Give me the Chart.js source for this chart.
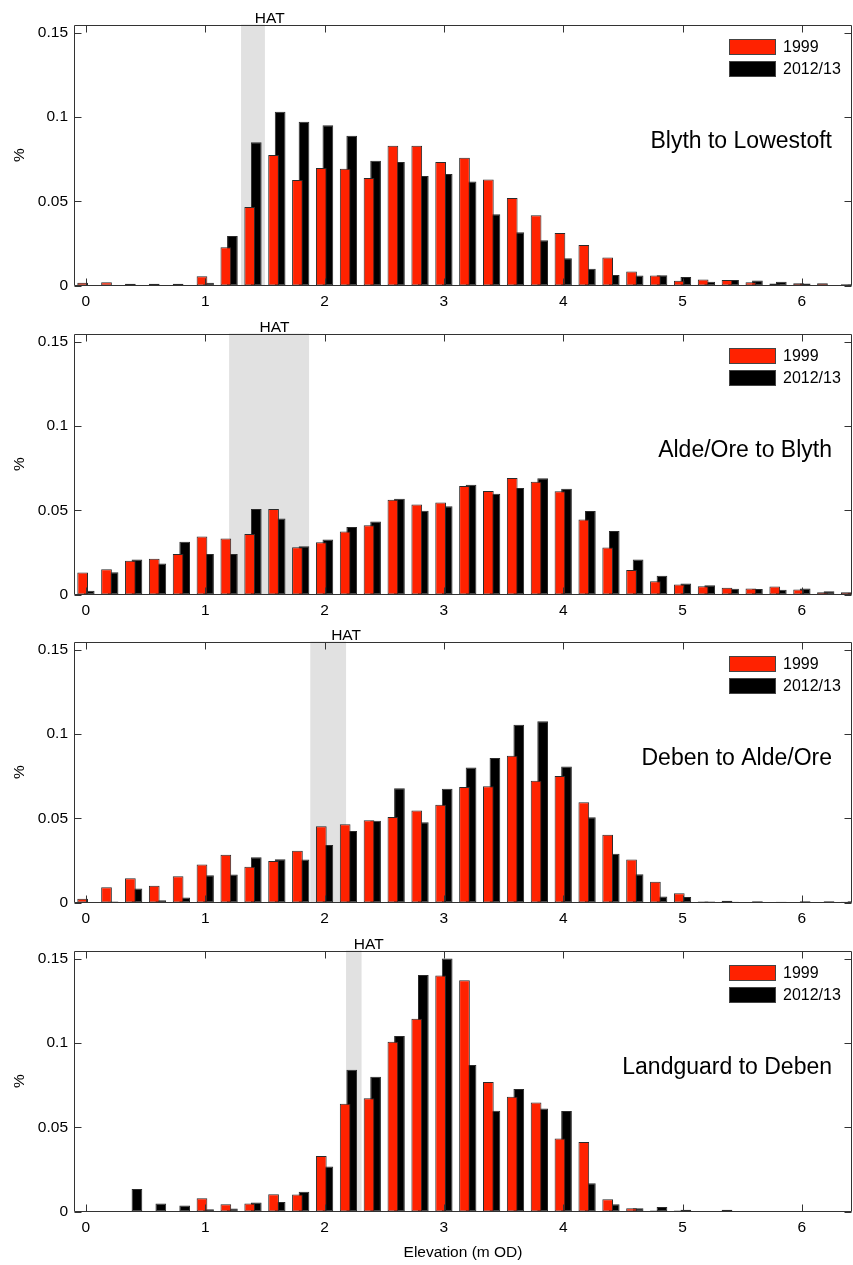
<!DOCTYPE html>
<html>
<head>
<meta charset="utf-8">
<script src="https://cdn.jsdelivr.net/npm/chart.js@4.4.1/dist/chart.umd.min.js"></script>
<style>
  html, body { margin: 0; padding: 0; background: #fff; }
  #wrap { position: relative; width: 853px; height: 1265px; overflow: hidden; }
  #wrap canvas { position: absolute; left: 0; }
</style>
</head>
<body>
<div id="wrap">
  <canvas id="p1" width="853" height="309" style="top:0px"></canvas>
  <canvas id="p2" width="853" height="309" style="top:309px"></canvas>
  <canvas id="p3" width="853" height="309" style="top:617px"></canvas>
  <canvas id="p4" width="853" height="339" style="top:926px"></canvas>
</div>
<script>
// --- data ---
const bins = [0, 0.2, 0.4, 0.6, 0.8, 1, 1.2, 1.4, 1.6, 1.8, 2, 2.2, 2.4, 2.6, 2.8,
              3, 3.2, 3.4, 3.6, 3.8, 4, 4.2, 4.4, 4.6, 4.8, 5, 5.2, 5.4, 5.6, 5.8, 6, 6.2, 6.4];
const xTicks = [0, 1, 2, 3, 4, 5, 6];
const yTicks = [0, 0.05, 0.1, 0.15];
const seriesNames = ['1999', '2012/13'];
const panelTitles = ['Blyth to Lowestoft', 'Alde/Ore to Blyth', 'Deben to Alde/Ore', 'Landguard to Deben'];
const hatFrom = [1.3, 1.2, 1.88, 2.18];
const hatTo = [1.5, 1.87, 2.18, 2.31];
const hatLabelAt = [1.54, 1.58, 2.18, 2.37];

const blyth1999 = [0.0016, 0.002, 0.001, 0.001, 0.001, 0.0055, 0.0227, 0.0466, 0.0775, 0.0626,
  0.0698, 0.0694, 0.0638, 0.083, 0.083, 0.0733, 0.0759, 0.063, 0.052, 0.0417,
  0.0312, 0.0241, 0.0166, 0.0083, 0.0059, 0.0028, 0.0036, 0.0032, 0.002, 0.0012, 0.0014, 0.0014, 0.0008];
const blyth2012 = [0, 0, 0, 0, 0.0003, 0.0016, 0.0294, 0.085, 0.1032, 0.0972,
  0.0951, 0.0889, 0.0741, 0.0733, 0.065, 0.0662, 0.0617, 0.0423, 0.0316, 0.0269,
  0.0162, 0.0099, 0.0063, 0.0059, 0.0061, 0.0051, 0.0022, 0.0032, 0.003, 0.0022, 0.0012, 0.0002, 0.0006];

const aldeOre1999 = [0.013, 0.015, 0.02, 0.0213, 0.0241, 0.0344, 0.0332, 0.036, 0.0508, 0.0281,
  0.031, 0.0374, 0.0411, 0.0563, 0.0534, 0.0547, 0.0644, 0.0615, 0.0692, 0.067,
  0.0613, 0.0445, 0.0279, 0.0146, 0.0079, 0.0059, 0.0049, 0.004, 0.0036, 0.0047, 0.003, 0.0014, 0.0014];
const aldeOre2012 = [0.0022, 0.0132, 0.0208, 0.0184, 0.0314, 0.0241, 0.0241, 0.0508, 0.0451, 0.0287,
  0.0326, 0.0401, 0.0433, 0.0569, 0.0498, 0.0524, 0.0652, 0.0599, 0.0632, 0.069,
  0.0628, 0.0496, 0.0377, 0.0208, 0.0111, 0.0065, 0.0055, 0.0034, 0.0032, 0.0028, 0.0036, 0.002, 0.001];

const deben1999 = [0.0022, 0.0091, 0.0144, 0.0099, 0.0156, 0.0225, 0.0283, 0.0213, 0.0247, 0.0308,
  0.0453, 0.0464, 0.0488, 0.0508, 0.0547, 0.0581, 0.0686, 0.069, 0.0872, 0.0723,
  0.0751, 0.0595, 0.0403, 0.0255, 0.0123, 0.0055, 0.0006, 0.001, 0.0002, 0.0002, 0.0002, 0.0002, 0.0004];
const deben2012 = [0.0002, 0.0006, 0.0083, 0.0014, 0.003, 0.0162, 0.0166, 0.0269, 0.0257, 0.0255,
  0.0342, 0.0425, 0.0486, 0.0678, 0.0476, 0.0676, 0.0802, 0.0858, 0.1055, 0.1077,
  0.0808, 0.0506, 0.0289, 0.0168, 0.0036, 0.0032, 0.0006, 0.0004, 0.0008, 0.0004, 0.0008, 0.0008, 0.0008];

const landguard1999 = [0, 0, 0, 0, 0, 0.0079, 0.0043, 0.0047, 0.0103, 0.0101,
  0.033, 0.064, 0.0672, 0.1008, 0.1144, 0.1401, 0.1374, 0.0769, 0.0682, 0.0648,
  0.0433, 0.0413, 0.0073, 0.002, 0.0006, 0.0006, 0, 0.001, 0, 0, 0, 0, 0];
const landguard2012 = [0, 0, 0.0134, 0.0047, 0.0036, 0.0014, 0.0018, 0.0053, 0.0057, 0.0117,
  0.0267, 0.0842, 0.08, 0.1042, 0.1405, 0.1502, 0.087, 0.0599, 0.0727, 0.0611,
  0.0597, 0.0168, 0.0043, 0.002, 0.0026, 0.001, 0, 0, 0, 0, 0, 0, 0];

const series1999 = [blyth1999, aldeOre1999, deben1999, landguard1999];
const series2012 = [blyth2012, aldeOre2012, deben2012, landguard2012];

// --- look ---
const FONT = "'Liberation Sans', Arial, Helvetica, sans-serif";
const RED = '#ff2200';
const BLACK = '#000000';
const AXIS = '#333333';
Chart.defaults.font.family = FONT;
Chart.defaults.color = '#000';

// gray HAT band, frame with inward ticks, legend, panel title
const panelDecor = {
    id: 'panelDecor',
    beforeDatasetsDraw(chart, args, opts) {
        const { ctx, chartArea: a, scales: { x } } = chart;
        const x0 = x.getPixelForValue(opts.hatFrom);
        const x1 = x.getPixelForValue(opts.hatTo);
        ctx.save();
        ctx.fillStyle = '#e1e1e1';
        ctx.fillRect(x0, a.top, x1 - x0, a.bottom - a.top);
        ctx.restore();
    },
    afterDraw(chart, args, opts) {
        const { ctx, chartArea: a, scales: { x, y } } = chart;
        const L = Math.round(a.left) + 0.5, R = Math.round(a.right) - 0.5;
        const T = Math.round(a.top) + 0.5, B = Math.round(a.bottom) - 0.5;
        ctx.save();

        // frame
        ctx.strokeStyle = AXIS;
        ctx.lineWidth = 1;
        ctx.beginPath();
        ctx.moveTo(L, T); ctx.lineTo(R, T); ctx.lineTo(R, B); ctx.lineTo(L, B); ctx.closePath();
        ctx.stroke();

        // inward ticks
        const tk = 7;
        ctx.beginPath();
        xTicks.forEach(v => {
            const px = Math.round(x.getPixelForValue(v)) + 0.5;
            ctx.moveTo(px, B); ctx.lineTo(px, B - tk);
            ctx.moveTo(px, T); ctx.lineTo(px, T + tk);
        });
        yTicks.forEach(v => {
            const py = Math.round(y.getPixelForValue(v)) + 0.5;
            ctx.moveTo(L, py); ctx.lineTo(L + tk, py);
            ctx.moveTo(R, py); ctx.lineTo(R - tk, py);
        });
        ctx.stroke();

        // HAT label
        ctx.fillStyle = '#000';
        ctx.font = '15.5px ' + FONT;
        ctx.textAlign = 'center';
        ctx.textBaseline = 'alphabetic';
        ctx.fillText('HAT', x.getPixelForValue(opts.hatLabelAt), a.top - 2);

        // legend (top right, no box)
        const boxL = a.right - 123;
        chart.data.datasets.forEach((ds, i) => {
            const top = a.top + 14.5 + i * 22;
            ctx.fillStyle = ds.backgroundColor;
            ctx.fillRect(boxL, top, 47, 16);
            ctx.strokeStyle = '#444';
            ctx.strokeRect(boxL + 0.5, top + 0.5, 46, 15);
            ctx.fillStyle = '#000';
            ctx.font = '16px ' + FONT;
            ctx.textAlign = 'left';
            ctx.textBaseline = 'middle';
            ctx.fillText(ds.label, boxL + 54, top + 9);
        });

        // panel title
        ctx.font = '23px ' + FONT;
        ctx.textAlign = 'right';
        ctx.textBaseline = 'middle';
        ctx.fillText(opts.title, a.right - 20, a.top + 117);
        ctx.restore();
    }
};

function makePanel(canvasId, i, last) {
    const canvas = document.getElementById(canvasId);
    const axisH = canvas.height - 24.5 - 261;

    new Chart(canvas, {
        type: 'bar',
        data: {
            datasets: [
                {
                    label: seriesNames[0],
                    data: bins.map((b, k) => ({ x: b, y: series1999[i][k] })),
                    backgroundColor: RED,
                    borderColor: '#2a2a2a',
                    borderWidth: 1,
                    borderSkipped: false,
                    categoryPercentage: 0.55,
                    barPercentage: 1.63
                },
                {
                    label: seriesNames[1],
                    data: bins.map((b, k) => ({ x: b, y: series2012[i][k] })),
                    backgroundColor: BLACK,
                    borderColor: '#2a2a2a',
                    borderWidth: 1,
                    borderSkipped: false,
                    categoryPercentage: 0.55,
                    barPercentage: 1.63
                }
            ]
        },
        options: {
            responsive: false,
            animation: false,
            events: [],
            layout: { padding: { top: 24.5, right: 1, bottom: 0, left: 0 } },
            plugins: {
                legend: { display: false },
                tooltip: { enabled: false },
                panelDecor: {
                    title: panelTitles[i],
                    hatFrom: hatFrom[i],
                    hatTo: hatTo[i],
                    hatLabelAt: hatLabelAt[i]
                }
            },
            scales: {
                x: {
                    type: 'linear',
                    min: -0.1,
                    max: 6.42,
                    offset: false,
                    grid: { display: false, drawTicks: false },
                    border: { display: false },
                    afterBuildTicks: s => { s.ticks = xTicks.map(v => ({ value: v })); },
                    afterFit: s => { s.height = axisH; },
                    ticks: {
                        padding: 7,
                        maxRotation: 0,
                        autoSkip: false,
                        font: { size: 15.5 },
                        callback: v => String(v)
                    },
                    title: {
                        display: last,
                        text: 'Elevation (m OD)',
                        font: { size: 15.5 },
                        padding: { top: 0, bottom: 3 }
                    }
                },
                y: {
                    min: 0,
                    max: 0.155,
                    grid: { display: false, drawTicks: false },
                    border: { display: false },
                    afterBuildTicks: s => { s.ticks = yTicks.map(v => ({ value: v })); },
                    afterFit: s => { s.width = 74; },
                    ticks: {
                        padding: 6,
                        font: { size: 15.5 },
                        callback: v => String(v)
                    },
                    title: {
                        display: true,
                        text: '%',
                        font: { size: 15.5 },
                        padding: { top: 10, bottom: 0 }
                    }
                }
            }
        },
        plugins: [panelDecor]
    });
}

makePanel('p1', 0, false);
makePanel('p2', 1, false);
makePanel('p3', 2, false);
makePanel('p4', 3, true);
</script>
</body>
</html>
